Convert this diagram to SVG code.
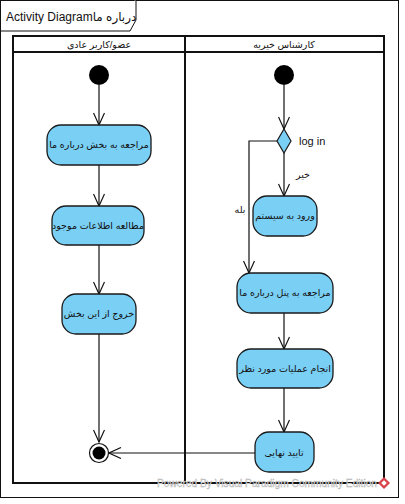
<svg xmlns="http://www.w3.org/2000/svg" width="405" height="504" viewBox="0 0 405 504">
<defs>
<style>
.t{font-family:"Liberation Sans","DejaVu Sans",sans-serif;fill:#111;}
.act{fill:#7ACFF5;stroke:#1a1a1a;stroke-width:1.3;}
.lane{fill:none;stroke:#111;stroke-width:2;}
.c{fill:none;stroke:#111;stroke-width:1.2;}
.lbl{font-size:9.5px;text-anchor:middle;direction:rtl;}
</style>
<marker id="ar" viewBox="0 0 14 12" refX="13" refY="6" markerWidth="14" markerHeight="12" markerUnits="userSpaceOnUse" orient="auto">
<path d="M1,0.5 L13,6 L1,11.5" fill="none" stroke="#111" stroke-width="1.2"/>
</marker>
</defs>
<rect x="0.5" y="0.5" width="398" height="497" fill="#fff" stroke="#111" stroke-width="1"/>
<g id="title">
<path d="M0.5,31 H130 L136,20 V0.5" fill="#fff" stroke="#111" stroke-width="1"/>
<text class="t" x="6" y="21" font-size="12">Activity Diagram<tspan>درباره ما</tspan></text>
</g>
<g id="lanes">
<rect class="lane" x="13" y="36" width="371" height="447"/>
<line class="lane" x1="13" y1="52" x2="384" y2="52"/>
<line class="lane" x1="185" y1="36" x2="185" y2="483"/>
<text class="t lbl" x="99" y="48" font-size="10">عضو/کاربر عادی</text>
<text class="t lbl" x="284" y="48" font-size="10">کارشناس خیریه</text>
</g>
<g id="connectors">
<line class="c" x1="99" y1="85" x2="99" y2="125" marker-end="url(#ar)"/>
<line class="c" x1="99" y1="165" x2="99" y2="206" marker-end="url(#ar)"/>
<line class="c" x1="99" y1="245" x2="99" y2="294" marker-end="url(#ar)"/>
<line class="c" x1="99" y1="334" x2="99" y2="442" marker-end="url(#ar)"/>
<line class="c" x1="284" y1="85" x2="284" y2="129" marker-end="url(#ar)"/>
<line class="c" x1="284" y1="153" x2="284" y2="196" marker-end="url(#ar)"/>
<polyline class="c" points="277,141 249,141 249,273" marker-end="url(#ar)"/>
<line class="c" x1="284" y1="313" x2="284" y2="349" marker-end="url(#ar)"/>
<line class="c" x1="284" y1="388" x2="284" y2="432" marker-end="url(#ar)"/>
<line class="c" x1="255" y1="453" x2="109" y2="453" marker-end="url(#ar)"/>
<text class="t" x="299" y="145" font-size="11">log in</text>
<text class="t lbl" x="303" y="178" font-size="9">خیر</text>
<text class="t lbl" x="240" y="213" font-size="9">بله</text>
</g>
<g id="start1"><circle cx="99" cy="75" r="10" fill="#000"/></g>
<g id="start2"><circle cx="284" cy="75" r="10" fill="#000"/></g>
<g id="a1"><rect class="act" x="47" y="125" width="104" height="40" rx="14"/><text class="t lbl" x="99" y="148">مراجعه به بخش درباره ما</text></g>
<g id="a2"><rect class="act" x="52" y="206" width="92" height="39" rx="14"/><text class="t lbl" x="98" y="229">مطالعه اطلاعات موجود</text></g>
<g id="a3"><rect class="act" x="62" y="294" width="74" height="40" rx="14"/><text class="t lbl" x="99" y="317">خروج از این بخش</text></g>
<g id="decision"><polygon points="284,129 291,141 284,153 277,141" fill="#7ACFF5" stroke="#1a1a1a" stroke-width="1.2"/></g>
<g id="b1"><rect class="act" x="253" y="196" width="64" height="40" rx="14"/><text class="t lbl" x="285" y="219">ورود به سیستم</text></g>
<g id="b2"><rect class="act" x="237" y="273" width="96" height="40" rx="14"/><text class="t lbl" x="285" y="296">مراجعه به پنل درباره ما</text></g>
<g id="b3"><rect class="act" x="237" y="349" width="96" height="39" rx="14"/><text class="t lbl" x="285" y="372">انجام عملیات مورد نظر</text></g>
<g id="b4"><rect class="act" x="255" y="432" width="59" height="40" rx="14"/><text class="t lbl" x="284" y="456">تایید نهایی</text></g>
<g id="final"><circle cx="99" cy="453" r="9.5" fill="#fff" stroke="#111" stroke-width="1.2"/><circle cx="99" cy="453" r="6.5" fill="#000"/></g>
<g id="watermark">
<text class="t" x="157" y="487" font-size="10" textLength="220" lengthAdjust="spacingAndGlyphs" style="fill:#ddd;stroke:#aaa;stroke-width:0.3">Powered By Visual Paradigm Community Edition</text>
<path d="M384,477 L390,483 L384,489 L378,483 Z" fill="#d9414a"/>
<rect x="382" y="481" width="4" height="4" fill="#fff" transform="rotate(45 384 483)"/>
</g>
</svg>
